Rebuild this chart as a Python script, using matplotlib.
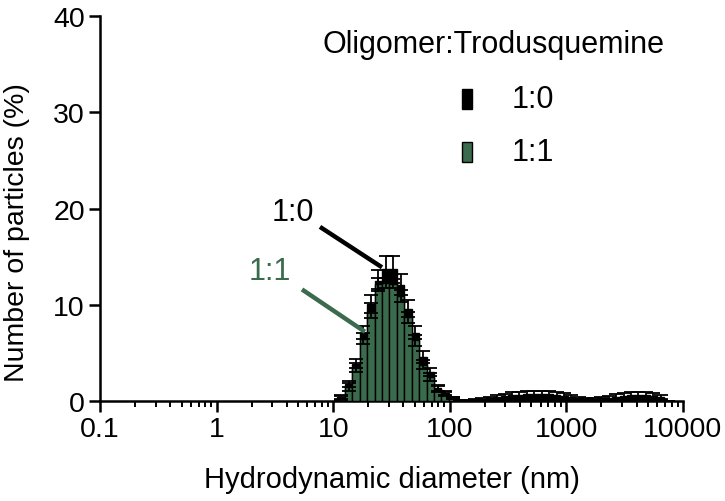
import numpy as np
import matplotlib
matplotlib.use("Agg")
import matplotlib.pyplot as plt
from matplotlib.patches import Rectangle

plt.rcParams['font.family'] = ['Liberation Sans', 'DejaVu Sans']

# Malvern size classes (70 bins, 0.4 - 10000 nm); only non-zero classes listed
bin_index = list(range(23, 68))

# Oligomer:Trodusquemine 1:0 (black)
num_10 = [0.4, 1.8, 3.9, 7.1, 10.1, 12.5, 13.7, 13.7, 12.1, 9.6, 7.1, 4.6, 3.0, 1.4, 0.8, 0.3,
          0.05, 0.1, 0.15, 0.2, 0.3, 0.4, 0.5, 0.6, 0.65, 0.7, 0.7, 0.7, 0.7, 0.65, 0.55,
          0.4, 0.3, 0.25, 0.25, 0.3, 0.35, 0.45, 0.55, 0.6, 0.6, 0.6, 0.55, 0.4, 0.0]
err_10 = [0.2, 0.3, 0.5, 0.7, 0.9, 1.1, 1.4, 1.4, 1.1, 0.9, 0.7, 0.6, 0.4, 0.3, 0.2, 0.1,
          0.05, 0.05, 0.1, 0.1, 0.15, 0.2, 0.25, 0.3, 0.3, 0.3, 0.3, 0.3, 0.3, 0.3, 0.25,
          0.2, 0.15, 0.1, 0.1, 0.15, 0.2, 0.25, 0.3, 0.3, 0.3, 0.3, 0.3, 0.2, 0.0]

# Oligomer:Trodusquemine 1:1 (green)
num_11 = [0.3, 1.5, 3.5, 6.5, 9.4, 12.2, 12.3, 12.2, 10.9, 8.7, 6.3, 3.8, 2.5, 1.25, 0.7, 0.3,
          0.0, 0.0, 0.0, 0.0, 0.05, 0.1, 0.1, 0.15, 0.2, 0.2, 0.2, 0.2, 0.2, 0.2, 0.15,
          0.1, 0.05, 0.0, 0.0, 0.05, 0.1, 0.15, 0.2, 0.2, 0.2, 0.2, 0.15, 0.1, 0.0]
err_11 = [0.2, 0.4, 0.5, 0.6, 0.8, 0.6, 0.5, 0.5, 0.6, 0.6, 0.6, 0.5, 0.4, 0.3, 0.2, 0.1,
          0.0, 0.0, 0.0, 0.0, 0.05, 0.05, 0.05, 0.1, 0.1, 0.1, 0.1, 0.1, 0.1, 0.1, 0.05,
          0.05, 0.05, 0.0, 0.0, 0.05, 0.05, 0.05, 0.1, 0.1, 0.1, 0.1, 0.05, 0.05, 0.0]

green = '#3b6b4d'

ratio = (10000 / 0.4) ** (1 / 69)
sizes = np.array([0.4 * ratio ** k for k in bin_index])
left = sizes / np.sqrt(ratio)
width = sizes * np.sqrt(ratio) - left

fig = plt.figure(figsize=(7.25, 5.02), dpi=100)
ax = fig.add_axes([0.138, 0.199, 0.804, 0.767])

ax.bar(left, num_10, width=width, align='edge', color='black', edgecolor='black',
       linewidth=1, zorder=2)
ax.bar(left, num_11, width=width, align='edge', color=green, edgecolor='black',
       linewidth=1, zorder=3)
ax.errorbar(sizes, num_10, yerr=err_10, fmt='none', ecolor='black', elinewidth=1.3,
            capsize=5, capthick=1.3, zorder=4)
ax.errorbar(sizes, num_11, yerr=err_11, fmt='none', ecolor='black', elinewidth=1.3,
            capsize=5, capthick=1.3, zorder=4)

ax.set_xscale('log')
ax.set_xlim(0.1, 10000)
ax.set_ylim(0, 40)
ax.set_yticks([0, 10, 20, 30, 40])
ax.set_xticks([0.1, 1, 10, 100, 1000, 10000])
ax.set_xticklabels(['0.1', '1', '10', '100', '1000', '10000'])

for s in ['top', 'right']:
    ax.spines[s].set_visible(False)
for s in ['left', 'bottom']:
    ax.spines[s].set_linewidth(1.8)
ax.tick_params(axis='both', which='major', length=8, width=1.8, labelsize=20.5,
               direction='out', pad=3)
ax.tick_params(axis='x', which='minor', length=4.5, width=1.4, direction='out')

ax.set_xlabel('Hydrodynamic diameter (nm)', fontsize=21, labelpad=16)
ax.set_ylabel('Number of particles (%)', fontsize=20.5)
ax.yaxis.set_label_coords(-0.12, 0.44)

# annotations
ax.plot([7.7, 26.2], [18.1, 13.9], color='black', lw=3.2, solid_capstyle='butt', zorder=5)
ax.text(4.5, 19.6, '1:0', fontsize=22, color='black', ha='center', va='center')
ax.plot([5.4, 18.7], [11.6, 7.2], color=green, lw=3.2, solid_capstyle='butt', zorder=5)
ax.text(2.87, 13.5, '1:1', fontsize=22, color=green, ha='center', va='center')

# legend, laid out by hand
W, H = 725.0, 502.0
fig.text(493 / W, 1 - 45 / H, 'Oligomer:Trodusquemine', fontsize=22, ha='center', va='center')
legend_labels = ['1:0', '1:1']
legend_colors = ['black', green]
legend_y = [100, 153]
for lab, col, yc in zip(legend_labels, legend_colors, legend_y):
    fig.patches.append(Rectangle((462 / W, 1 - (yc + 10) / H), 10 / W, 20 / H,
                                 facecolor=col, edgecolor='black', linewidth=1,
                                 transform=fig.transFigure))
    fig.text(512 / W, 1 - yc / H, lab, fontsize=22, ha='left', va='center')

fig.savefig('out.png', dpi=100)
